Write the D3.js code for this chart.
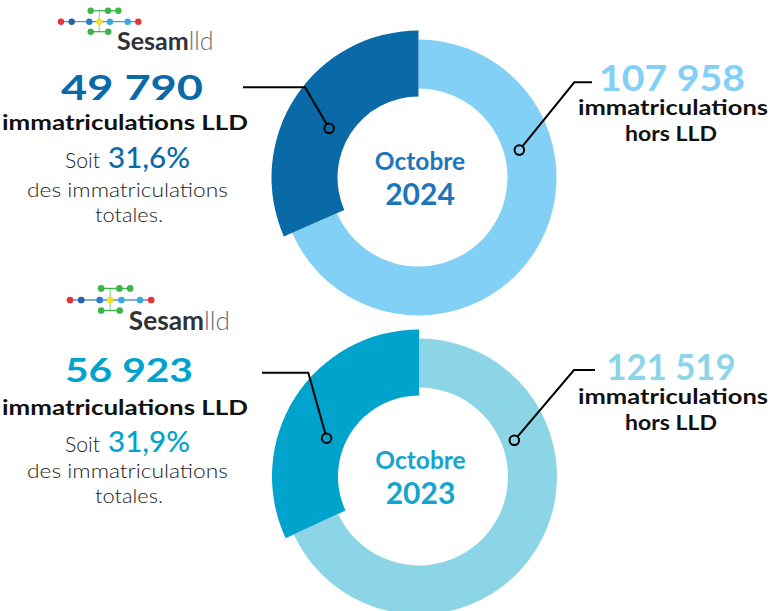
<!DOCTYPE html>
<html>
<head>
<meta charset="utf-8">
<script src="https://cdn.jsdelivr.net/npm/d3@7"></script>
<style>
  html, body { margin: 0; padding: 0; background: #fff; }
  svg { display: block; }
  text { font-family: Lato, "Open Sans", sans-serif; }
</style>
</head>
<body>
<div id="chart"></div>
<script>
// ---- data ----
const years = ["2024", "2023"];
const monthLabel = "Octobre";
const lldValues = [49790, 56923];
const horsLldValues = [107958, 121519];
const lldLabel = "immatriculations LLD";
const horsLabelLines = ["immatriculations", "hors LLD"];
const shareLines = ["Soit", "des immatriculations", "totales."];

// ---- style ----
const darkColors = ["#0A69A7", "#00A3CC"];
const lightColors = ["#82D0F5", "#8BD5E7"];
const centerTextColors = ["#1D76BC", "#14A4CE"];

const W = 772, H = 611;
const fr = d3.formatLocale({ decimal: ",", thousands: " ", grouping: [3], currency: ["", " €"] });
const fmtInt = fr.format(",d");
const fmtPct = fr.format(".1%");

const svg = d3.select("#chart").append("svg").attr("width", W).attr("height", H);

// partial heading cut at top
svg.append("text").attr("x", 459).attr("y", -5).attr("font-size", 30).attr("font-weight", 700)
  .attr("fill", "#1D76BC").text("(");
svg.append("text").attr("x", 622).attr("y", -5).attr("font-size", 30).attr("font-weight", 700)
  .attr("fill", "#1D76BC").text(")");

// layout per block
const layout = [
  { cx: 418.5, cy: 177.5, logo: [61, 21.7, 1.0],
    num: { x: 132, y: 100, w: 142, fs: 35 },
    lld: { y: 130 }, soit: { y: 168 }, des: { y: 197 }, tot: { y: 222 },
    rnum: { x: 672, y: 90.7, w: 146, fs: 37 }, rl1: { y: 114.5 }, rl2: { y: 141 },
    lconn: [[243, 87.3], [305, 87.3]], lcirc: [-61.2, 102],
    rconn: [[592, 82.3], [574.3, 82.3]], rcirc: [74.8, 104.5] },
  { cx: 419, cy: 476.5, logo: [70, 300, 1.05],
    num: { x: 129, y: 382, w: 128, fs: 33 },
    lld: { y: 415 }, soit: { y: 451.7 }, des: { y: 478.3 }, tot: { y: 502.7 },
    rnum: { x: 671, y: 380, w: 129, fs: 37 }, rl1: { y: 403.5 }, rl2: { y: 430 },
    lconn: [[262, 372.7], [308.3, 372.7]], lcirc: [-67.5, 100],
    rconn: [[595, 370], [574, 370]], rcirc: [69.2, 102] }
];

const darkArc = d3.arc().innerRadius(81).outerRadius(147);
const lightArc = d3.arc().innerRadius(89).outerRadius(138);
const pie = d3.pie().sort(null).startAngle(0).endAngle(-2 * Math.PI);

function polar(cx, cy, angDeg, r) {
  const a = angDeg * Math.PI / 180;
  return [cx + r * Math.sin(a), cy - r * Math.cos(a)];
}

function drawLogo(g, x0, y0, s) {
  const lg = g.append("g").attr("transform", `translate(${x0},${y0}) scale(${s})`);
  // connecting lines
  const lineCol = "#9aa6b2";
  lg.append("line").attr("x1", 0).attr("y1", 0).attr("x2", 77).attr("y2", 0)
    .attr("stroke", "#5b8fc9").attr("stroke-width", 1.3);
  lg.append("line").attr("x1", 29.7).attr("y1", -11).attr("x2", 57.3).attr("y2", -11)
    .attr("stroke", "#3DB54A").attr("stroke-width", 1.3);
  lg.append("line").attr("x1", 29.7).attr("y1", 10).attr("x2", 47.3).attr("y2", 10)
    .attr("stroke", "#3DB54A").attr("stroke-width", 1.3);
  lg.append("line").attr("x1", 38.3).attr("y1", -11).attr("x2", 38.3).attr("y2", 10)
    .attr("stroke", "#3DB54A").attr("stroke-width", 1.1).attr("opacity", 0.6);
  const dots = [
    [0, 0, "#E8323C"], [10.7, 0, "#2A5FA8"], [28.3, 0, "#2A7CC4"], [38.3, 0, "#F2E12B"],
    [49, 0, "#3AA9E0"], [66.7, 0, "#3AA9E0"], [77.3, 0, "#E8323C"],
    [29.7, -11, "#3DB54A"], [47, -11, "#3DB54A"], [57.3, -11, "#3DB54A"],
    [29.7, 10, "#3DB54A"], [47.3, 10, "#3DB54A"]
  ];
  lg.selectAll("circle").data(dots).join("circle")
    .attr("cx", d => d[0]).attr("cy", d => d[1]).attr("r", 3.2).attr("fill", d => d[2]);
  const t = lg.append("text").attr("x", 56).attr("y", 28.5).attr("font-size", 25);
  t.append("tspan").attr("font-weight", 700).attr("fill", "#2f3236").text("Sesam");
  t.append("tspan").attr("font-weight", 300).attr("fill", "#6b6e72").text("lld");
}

years.forEach((yr, i) => {
  const L = layout[i];
  const g = svg.append("g");
  const arcs = pie([lldValues[i], horsLldValues[i]]);

  // donut
  const dg = g.append("g").attr("transform", `translate(${L.cx},${L.cy})`);
  dg.append("path").attr("d", lightArc(arcs[1])).attr("fill", lightColors[i]);
  dg.append("path").attr("d", darkArc(arcs[0])).attr("fill", darkColors[i]);

  // centre labels
  g.append("text").attr("x", L.cx + 1.5).attr("y", L.cy - 7.5).attr("text-anchor", "middle")
    .attr("font-size", 24.5).attr("font-weight", 700).attr("fill", centerTextColors[i]).text(monthLabel);
  g.append("text").attr("x", L.cx + 1.5).attr("y", L.cy + 27.5).attr("text-anchor", "middle")
    .attr("font-size", 30).attr("font-weight", 700).attr("fill", centerTextColors[i]).text(yr);

  // logo
  drawLogo(g, L.logo[0], L.logo[1], L.logo[2]);

  // left block
  const total = lldValues[i] + horsLldValues[i];
  g.append("text").attr("x", L.num.x - L.num.w / 2).attr("y", L.num.y)
    .attr("font-size", L.num.fs).attr("font-weight", 700).attr("fill", darkColors[i])
    .attr("textLength", L.num.w).attr("lengthAdjust", "spacingAndGlyphs")
    .text(fmtInt(lldValues[i]));
  g.append("text").attr("x", 2).attr("y", L.lld.y)
    .attr("font-size", 20.5).attr("font-weight", 700).attr("fill", "#111")
    .attr("textLength", 246).attr("lengthAdjust", "spacingAndGlyphs").text(lldLabel);
  g.append("text").attr("x", 65).attr("y", L.soit.y)
    .attr("font-size", 22).attr("font-weight", 300).attr("fill", "#222")
    .attr("textLength", 35).attr("lengthAdjust", "spacingAndGlyphs").text(shareLines[0]);
  g.append("text").attr("x", 108).attr("y", L.soit.y)
    .attr("font-size", 29).attr("font-weight", 500).attr("fill", darkColors[i])
    .attr("textLength", 82).attr("lengthAdjust", "spacingAndGlyphs")
    .text(fmtPct(lldValues[i] / total));
  g.append("text").attr("x", 27).attr("y", L.des.y)
    .attr("font-size", 20.5).attr("font-weight", 300).attr("fill", "#222")
    .attr("textLength", 201).attr("lengthAdjust", "spacingAndGlyphs").text(shareLines[1]);
  g.append("text").attr("x", 95).attr("y", L.tot.y)
    .attr("font-size", 20.5).attr("font-weight", 300).attr("fill", "#222")
    .attr("textLength", 68).attr("lengthAdjust", "spacingAndGlyphs").text(shareLines[2]);

  // right block
  g.append("text").attr("x", L.rnum.x - L.rnum.w / 2).attr("y", L.rnum.y)
    .attr("font-size", L.rnum.fs).attr("font-weight", 700).attr("fill", lightColors[i])
    .attr("textLength", L.rnum.w).attr("lengthAdjust", "spacingAndGlyphs")
    .text(fmtInt(horsLldValues[i]));
  g.append("text").attr("x", 578).attr("y", L.rl1.y)
    .attr("font-size", 20.5).attr("font-weight", 700).attr("fill", "#111")
    .attr("textLength", 190).attr("lengthAdjust", "spacingAndGlyphs").text(horsLabelLines[0]);
  g.append("text").attr("x", 625).attr("y", L.rl2.y)
    .attr("font-size", 20.5).attr("font-weight", 700).attr("fill", "#111")
    .attr("textLength", 92).attr("lengthAdjust", "spacingAndGlyphs").text(horsLabelLines[1]);

  // connectors
  const lc = polar(L.cx, L.cy, L.lcirc[0], L.lcirc[1]);
  const rc = polar(L.cx, L.cy, L.rcirc[0], L.rcirc[1]);
  const line = d3.line();
  g.append("path").attr("d", line([L.lconn[0], L.lconn[1], lc]))
    .attr("fill", "none").attr("stroke", "#000").attr("stroke-width", 2);
  g.append("circle").attr("cx", lc[0]).attr("cy", lc[1]).attr("r", 4.8)
    .attr("fill", darkColors[i]).attr("stroke", "#000").attr("stroke-width", 2);
  g.append("path").attr("d", line([L.rconn[0], L.rconn[1], rc]))
    .attr("fill", "none").attr("stroke", "#000").attr("stroke-width", 2);
  g.append("circle").attr("cx", rc[0]).attr("cy", rc[1]).attr("r", 4.8)
    .attr("fill", lightColors[i]).attr("stroke", "#000").attr("stroke-width", 2);
});
</script>
</body>
</html>
